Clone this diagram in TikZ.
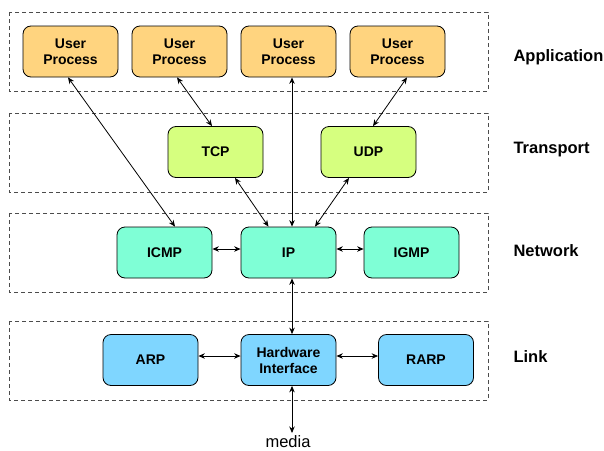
\documentclass[tikz,border=0pt]{standalone}
\usepackage{fontspec}
\setmainfont{Liberation Sans}
\usepackage{tikz}
\usetikzlibrary{arrows.meta}
\usepackage{xcolor}
\definecolor{appcol}{HTML}{FFD47F}
\definecolor{trcol}{HTML}{D6FF7F}
\definecolor{netcol}{HTML}{7FFFD6}
\definecolor{linkcol}{HTML}{7FD6FF}

\begin{document}
\begin{tikzpicture}[x = 1pt, y = -1pt,
  proto/.style = {draw, line width = 0.8pt, rounded corners = 8pt, minimum width = 95pt,
    minimum height = 51pt, inner sep = 0pt, align = center,
    font = \fontsize{14}{16}\selectfont\bfseries},
  layer/.style = {draw = black!70, line width = 0.8pt, dash pattern = on 4pt off 3pt},
  layername/.style = {anchor = west, font = \fontsize{16.5}{18}\selectfont\bfseries},
  link/.style = {<->, >={Stealth[length = 6.5pt, width = 5.5pt]}, line width = 0.8pt}]
\useasboundingbox (0,0) rectangle (604,450);
% layers
\draw[layer] (9,12) rectangle (488,91);
\draw[layer] (9,113) rectangle (488,192);
\draw[layer] (9,213) rectangle (488,292);
\draw[layer] (9,321) rectangle (488,400);
\node[layername] at (510,57) {Application};
\node[layername] at (510,150) {Transport};
\node[layername] at (510,251) {Network};
\node[layername] at (510,357) {Link};
% boxes
\foreach \i/\x in {1/70.5,2/179.5,3/288.5,4/397.5}{
  \node[proto, fill = appcol] (user\i) at (\x,51.5) {User\\Process};
}
\node[proto, fill = trcol] (tcp) at (215.5,152) {TCP};
\node[proto, fill = trcol] (udp) at (368.5,152) {UDP};
\node[proto, fill = netcol] (icmp) at (164.5,252.5) {ICMP};
\node[proto, fill = netcol] (ip) at (288.5,252.5) {IP};
\node[proto, fill = netcol] (igmp) at (411.5,252.5) {IGMP};
\node[proto, fill = linkcol] (arp) at (150.5,360) {ARP};
\node[proto, fill = linkcol] (hw) at (288.5,360) {Hardware\\Interface};
\node[proto, fill = linkcol] (rarp) at (426,360) {RARP};
\node[font = \fontsize{16.5}{18}\selectfont, anchor = base, inner sep = 1pt] (media) at (288,447) {media};
\coordinate (mediatop) at (292,433);
% arrows
\draw[link] ([xshift = -2.5pt]user1.south) -- ([xshift = 10.5pt]icmp.north);
\draw[link] ([xshift = -2.5pt]user2.south) -- ([xshift = -3.5pt]tcp.north);
\draw[link] ([xshift = 3.5pt]user3.south) -- ([xshift = 3.5pt]ip.north);
\draw[link] ([xshift = 9.5pt]user4.south) -- ([xshift = 4.5pt]udp.north);
\draw[link] ([xshift = 19.5pt]tcp.south) -- ([xshift = -20pt]ip.north);
\draw[link] ([xshift = -19.5pt]udp.south) -- ([xshift = 26.5pt]ip.north);
\draw[link] ([yshift = 3.5pt]icmp.east) -- ([yshift = 3.5pt]ip.west);
\draw[link] ([yshift = 3.5pt]ip.east) -- ([yshift = 3.5pt]igmp.west);
\draw[link] ([xshift = 3.5pt]ip.south) -- ([xshift = 3.5pt]hw.north);
\draw[link] ([yshift = 4pt]arp.east) -- ([yshift = 4pt]hw.west);
\draw[link] ([yshift = 4pt]hw.east) -- ([yshift = 4pt]rarp.west);
\draw[link] ([xshift = 3.5pt]hw.south) -- (mediatop);
\end{tikzpicture}
\end{document}
